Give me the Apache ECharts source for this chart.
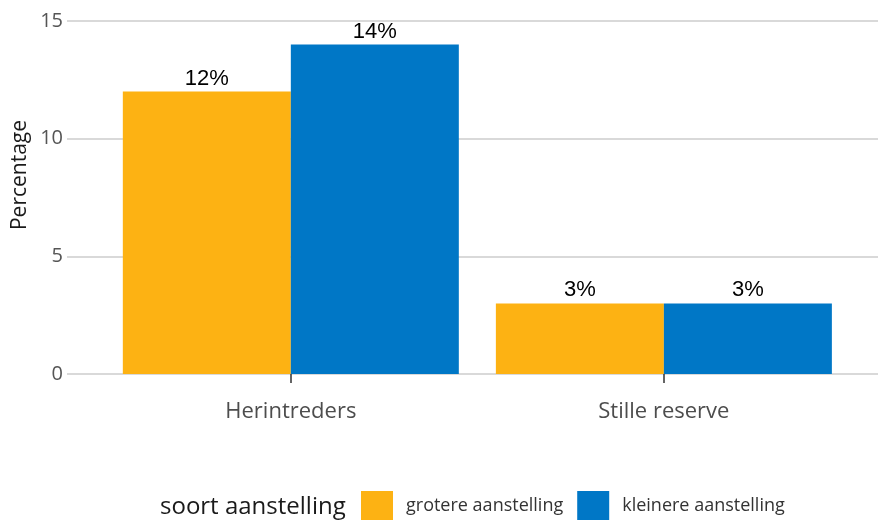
<!DOCTYPE html>
<html>
<head>
<meta charset="utf-8">
<script src="https://cdn.jsdelivr.net/npm/echarts@6/dist/echarts.min.js"></script>
<style>
  html, body { margin: 0; padding: 0; background: #fff; }
  #chart { width: 878px; height: 520px; }
</style>
</head>
<body>
<div id="chart"></div>
<script>
// Groups along the horizontal axis
const categories = ['Herintreders', 'Stille reserve'];
// Share per type of appointment (percent)
const groteredata = [12, 3];
const kleineredata = [14, 3];
const seriesNames = ['grotere aanstelling', 'kleinere aanstelling'];
const legendTitle = 'soort aanstelling';
const yTitle = 'Percentage';
const yTicks = [0, 5, 10, 15];

// Group positions on a continuous axis: 1, 2, ...
const positions = categories.map((c, i) => i + 1);
const toPoints = vals => vals.map((v, i) => [positions[i], v]);

const labelFont = 'Open Sans, Noto Sans, sans-serif';

const chart = echarts.init(document.getElementById('chart'), null, { renderer: 'canvas' });

const valueLabel = {
  show: true,
  position: 'top',
  distance: 2,
  fontFamily: 'Liberation Sans, Arial, sans-serif',
  fontSize: 22,
  color: '#000',
  formatter: p => p.value[1] + '%'
};

chart.setOption({
  animation: false,
  grid: { left: 67, right: 0, top: 21, bottom: 146, containLabel: false, outerBoundsMode: 'none' },
  xAxis: {
    type: 'value',
    min: 0.4,
    max: 2.574,
    axisLine: { show: false },
    splitLine: { show: false },
    axisTick: {
      show: true,
      customValues: positions,
      length: 9,
      lineStyle: { color: '#333', width: 1.5 }
    },
    axisLabel: {
      customValues: positions,
      formatter: v => categories[Math.round(v) - 1] || '',
      fontFamily: labelFont,
      fontSize: 22,
      color: '#4d4d4d',
      margin: 27
    }
  },
  yAxis: {
    type: 'value',
    min: yTicks[0],
    max: yTicks[yTicks.length - 1],
    interval: 5,
    axisLine: { show: false },
    axisTick: { show: false },
    axisLabel: { fontFamily: labelFont, fontSize: 20, color: '#555', margin: 4 },
    splitLine: { lineStyle: { color: '#cccccc', width: 1.5 } }
  },
  legend: {
    left: 361,
    top: 491,
    padding: 0,
    itemWidth: 32,
    itemHeight: 30,
    itemGap: 14,
    icon: 'rect',
    textStyle: { fontFamily: labelFont, fontSize: 18, color: '#333', padding: [5, 0, 0, 8] },
    data: seriesNames
  },
  graphic: [
    {
      type: 'text',
      left: 160,
      top: 495,
      style: { text: legendTitle, fontFamily: labelFont, fontSize: 24, fill: '#1a1a1a' }
    },
    {
      type: 'text',
      x: 20,
      y: 175,
      rotation: Math.PI / 2,
      style: {
        text: yTitle, fontFamily: labelFont, fontSize: 21, fill: '#1a1a1a',
        align: 'center', verticalAlign: 'middle'
      }
    }
  ],
  series: [
    {
      name: seriesNames[0],
      type: 'bar',
      data: toPoints(groteredata),
      barWidth: 168,
      barGap: '0%',
      itemStyle: { color: '#FDB213' },
      label: valueLabel
    },
    {
      name: seriesNames[1],
      type: 'bar',
      data: toPoints(kleineredata),
      barWidth: 168,
      barGap: '0%',
      itemStyle: { color: '#0077C6' },
      label: valueLabel
    }
  ]
});
</script>
</body>
</html>
